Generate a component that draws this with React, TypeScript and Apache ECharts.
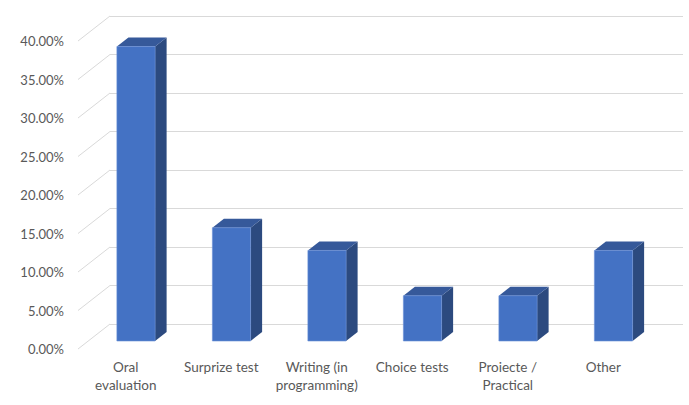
import React, { useEffect, useRef } from "react";
import * as echarts from "echarts";

const categories = [
  "Oral\nevaluation",
  "Surprize test",
  "Writing (in\nprogramming)",
  "Choice tests",
  "Proiecte /\nPractical",
  "Other",
];
const values = [38.24, 14.71, 11.76, 5.88, 5.88, 11.76];
const yMin = 0;
const yMax = 40;
const yInterval = 5;
const yTicks = [0, 5, 10, 15, 20, 25, 30, 35, 40];

const DEPTH_X = 32;
const DEPTH_Y = 25;
const FONT = "Lato, 'Open Sans', sans-serif";
const TEXT = "#595959";

export default function App() {
  const ref = useRef<HTMLDivElement>(null);
  useEffect(() => {
    if (!ref.current) return;
    const chart = echarts.init(ref.current, null, { renderer: "svg" });
    const frontF = 0.68;
    const backF = 0.32;
    const option: any = {
      animation: false,
      grid: [
        { left: 110, width: 573, top: 16, height: 308 },
        { left: 110 - DEPTH_X, width: 573, top: 16 + DEPTH_Y, height: 308 },
      ],
      xAxis: [
        {
          gridIndex: 0,
          type: "category",
          data: categories,
          axisLine: { show: false },
          axisTick: { show: false },
          axisLabel: { show: false },
          splitLine: { show: false },
        },
        {
          gridIndex: 1,
          type: "category",
          data: categories,
          axisLine: { show: false },
          axisTick: { show: false },
          axisLabel: {
            margin: 9,
            color: TEXT,
            fontSize: 13.5,
            lineHeight: 18,
            fontFamily: FONT,
            interval: 0,
          },
        },
      ],
      yAxis: [
        {
          gridIndex: 0,
          type: "value",
          min: yMin,
          max: yMax,
          interval: yInterval,
          axisLine: { show: false },
          axisTick: { show: false },
          axisLabel: { show: false },
          splitLine: { lineStyle: { color: "#D9D9D9", width: 1 } },
        },
        {
          gridIndex: 1,
          type: "value",
          min: yMin,
          max: yMax,
          interval: yInterval,
          axisLine: { show: false },
          axisTick: { show: false },
          splitLine: { show: false },
          axisLabel: {
            margin: 14,
            color: TEXT,
            fontSize: 13,
            fontFamily: FONT,
            formatter: (v: number) => v.toFixed(2) + "%",
          },
        },
      ],
      series: [
        {
          type: "custom",
          xAxisIndex: 0,
          yAxisIndex: 0,
          silent: true,
          data: yTicks.map((t) => [0, t]),
          renderItem: (params: any, api: any) => {
            const y = api.coord([0, api.value(1)])[1];
            const x0 = params.coordSys.x;
            return {
              type: "line",
              shape: { x1: x0, y1: y, x2: x0 - DEPTH_X, y2: y + DEPTH_Y },
              style: { stroke: "#D9D9D9", lineWidth: 1 },
            };
          },
        },
        {
          type: "custom",
          xAxisIndex: 0,
          yAxisIndex: 0,
          data: values.map((v, i) => [i, v]),
          renderItem: (params: any, api: any) => {
            const i = api.value(0);
            const v = api.value(1);
            const base = api.coord([i, 0]);
            const top = api.coord([i, v]);
            const cx = base[0];
            const hw = (api.size([1, 0])[0] * 0.4) / 2;
            const fx = -DEPTH_X * frontF;
            const fy = DEPTH_Y * frontF;
            const bx = -DEPTH_X * backF;
            const by = DEPTH_Y * backF;
            const tY = top[1];
            const bY = base[1];
            return {
              type: "group",
              children: [
                {
                  type: "polygon",
                  shape: {
                    points: [
                      [cx + hw + fx, tY + fy],
                      [cx + hw + bx, tY + by],
                      [cx + hw + bx, bY + by],
                      [cx + hw + fx, bY + fy],
                    ],
                  },
                  style: { fill: "#2C4A7F" },
                },
                {
                  type: "polygon",
                  shape: {
                    points: [
                      [cx - hw + fx, tY + fy],
                      [cx - hw + bx, tY + by],
                      [cx + hw + bx, tY + by],
                      [cx + hw + fx, tY + fy],
                    ],
                  },
                  style: { fill: "#36599A" },
                },
                {
                  type: "rect",
                  shape: {
                    x: cx - hw + fx,
                    y: tY + fy,
                    width: hw * 2,
                    height: bY - tY,
                  },
                  style: { fill: "#4472C4", stroke: "#6A90D6", lineWidth: 0.6 },
                },
              ],
            };
          },
        },
      ],
    };
    chart.setOption(option);
    return () => chart.dispose();
  }, []);
  return <div ref={ref} style={{ width: 689, height: 405, position: "absolute", left: 0, top: 0 }} />;
}
